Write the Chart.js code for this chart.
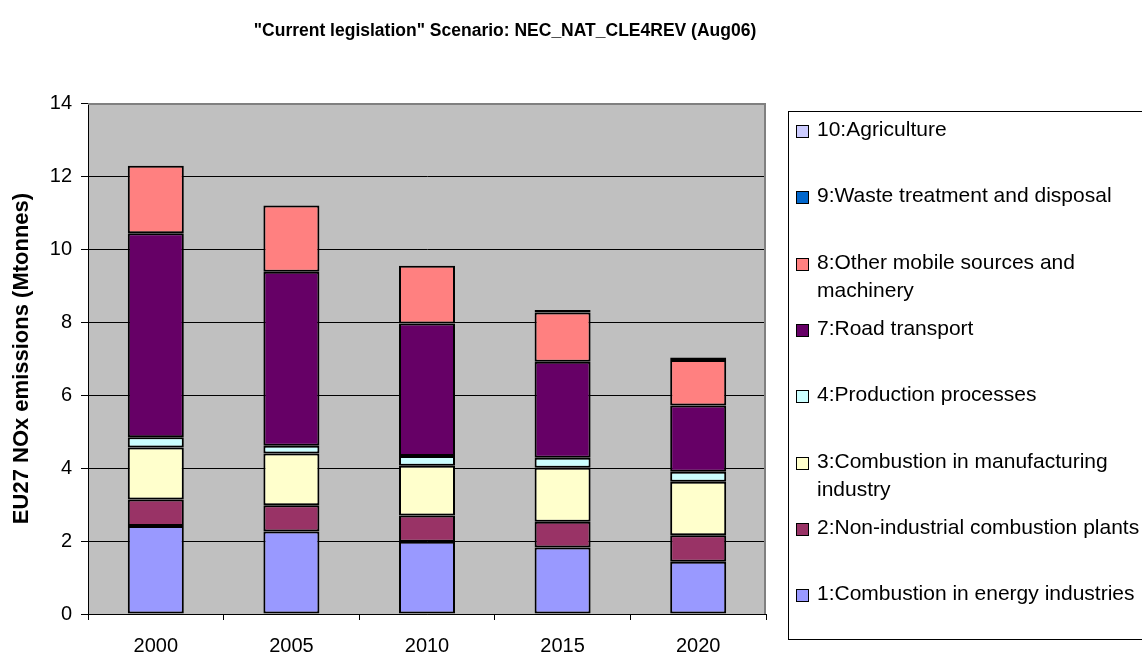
<!DOCTYPE html>
<html>
<head>
<meta charset="utf-8">
<script src="https://cdn.jsdelivr.net/npm/chart.js@4/dist/chart.umd.min.js"></script>
<style>
  html, body { margin:0; padding:0; background:#fff; }
  #wrap { position:relative; width:1142px; height:654px; overflow:hidden; font-family:"Liberation Sans", Arial, sans-serif; }
  #chart { position:absolute; left:0; top:0; }
  #title { position:absolute; left:0; width:1010px; top:20px; line-height:20px; text-align:center;
           font-weight:bold; font-size:17.5px; color:#000; white-space:nowrap; }
  #legend { position:absolute; left:788px; top:111px; width:420px; height:529px; border:1px solid #000; box-sizing:border-box; }
  .item { position:absolute; left:0; }
  .sw { position:absolute; left:7px; top:10px; width:13px; height:13px; border:1.5px solid #000; box-sizing:border-box; }
  .txt { position:absolute; left:28px; top:0; width:340px; font-size:21px; line-height:28px; color:#000; }
</style>
</head>
<body>
<div id="wrap">
  <canvas id="chart" width="1142" height="654"></canvas>
  <div id="title">"Current legislation" Scenario: NEC_NAT_CLE4REV (Aug06)</div>
  <div id="legend"></div>
</div>
<script>
// ---- data (Mtonnes) ----
const years  = ["2000", "2005", "2010", "2015", "2020"];
const energy = [2.41, 2.26, 1.98, 1.82, 1.43];   // 1
const nonInd = [0.73, 0.72, 0.72, 0.71, 0.73];   // 2
const manuf  = [1.42, 1.42, 1.36, 1.48, 1.46];   // 3
const proc   = [0.28, 0.21, 0.27, 0.27, 0.28];   // 4
const road   = [5.59, 4.77, 3.63, 2.63, 1.81];   // 7
const mobile = [1.85, 1.81, 1.58, 1.35, 1.25];   // 8
const waste  = [0, 0, 0, 0.07, 0.07];            // 9
const agri   = [0, 0, 0, 0, 0];                  // 10

const names = [
  "1:Combustion in energy industries",
  "2:Non-industrial combustion plants",
  "3:Combustion in manufacturing industry",
  "4:Production processes",
  "7:Road transport",
  "8:Other mobile sources and machinery",
  "9:Waste treatment and disposal",
  "10:Agriculture",
];
const series = [energy, nonInd, manuf, proc, road, mobile, waste, agri];
const colors = ["#9999FF", "#993366", "#FFFFCC", "#CCFFFF", "#660066", "#FF8080", "#0066CC", "#CCCCFF"];

const F = "'Liberation Sans', Arial, sans-serif";

// gray plot area + gray top/right frame like the Excel original
const plotFrame = {
  id: "plotFrame",
  beforeDraw(c) {
    const a = c.chartArea, ctx = c.ctx;
    ctx.save();
    ctx.fillStyle = "#C0C0C0";
    ctx.fillRect(a.left, a.top, a.right - a.left, a.bottom - a.top);
    ctx.restore();
  },
  afterDraw(c) {
    const a = c.chartArea, ctx = c.ctx;
    ctx.save();
    ctx.strokeStyle = "#808080";
    ctx.lineWidth = 2;
    ctx.beginPath();
    ctx.moveTo(a.left, a.top + 1);
    ctx.lineTo(a.right - 1, a.top + 1);
    ctx.lineTo(a.right - 1, a.bottom);
    ctx.stroke();
    ctx.restore();
  }
};

new Chart(document.getElementById("chart"), {
  type: "bar",
  data: {
    labels: years,
    datasets: series.map((d, i) => ({
      label: names[i], data: d, backgroundColor: colors[i],
      borderColor: "#000", borderWidth: 2, borderSkipped: false,
      categoryPercentage: 1, barPercentage: 0.413,
    })),
  },
  options: {
    responsive: false, animation: false,
    layout: { padding: { top: 103, right: 376, left: 0, bottom: 0 } },
    plugins: { legend: { display: false }, tooltip: { enabled: false }, title: { display: false } },
    scales: {
      x: {
        stacked: true,
        afterFit: s => { s.height = 40; },
        grid: { offset: true, drawOnChartArea: false, color: "#000", tickLength: 6 },
        border: { color: "#000", width: 1 },
        ticks: { color: "#000", font: { family: F, size: 20 }, padding: 14 },
      },
      y: {
        stacked: true, min: 0, max: 14,
        afterFit: s => { s.width = 88; },
        grid: {
          color: ctx => ctx.tick && ctx.tick.value === 14 ? "rgba(0,0,0,0)" : "#000",
          tickColor: "#000", tickLength: 7, lineWidth: 1,
        },
        border: { color: "#000", width: 1 },
        ticks: { stepSize: 2, color: "#000", font: { family: F, size: 20 }, padding: 9 },
        title: {
          display: true, text: "EU27 NOx emissions (Mtonnes)", color: "#000",
          font: { family: F, size: 22, weight: "bold" }, padding: { top: 9, bottom: 0 },
        },
      },
    },
  },
  plugins: [plotFrame],
});

// legend: Excel lists the series top-down in reverse stacking order
const leg = document.getElementById("legend");
[...names.keys()].reverse().forEach((idx, row) => {
  const it = document.createElement("div");
  it.className = "item";
  it.style.top = (3 + row * 66.3) + "px";
  it.innerHTML = `<div class="sw" style="background:${colors[idx]}"></div><div class="txt">${names[idx]}</div>`;
  leg.appendChild(it);
});
</script>
</body>
</html>
